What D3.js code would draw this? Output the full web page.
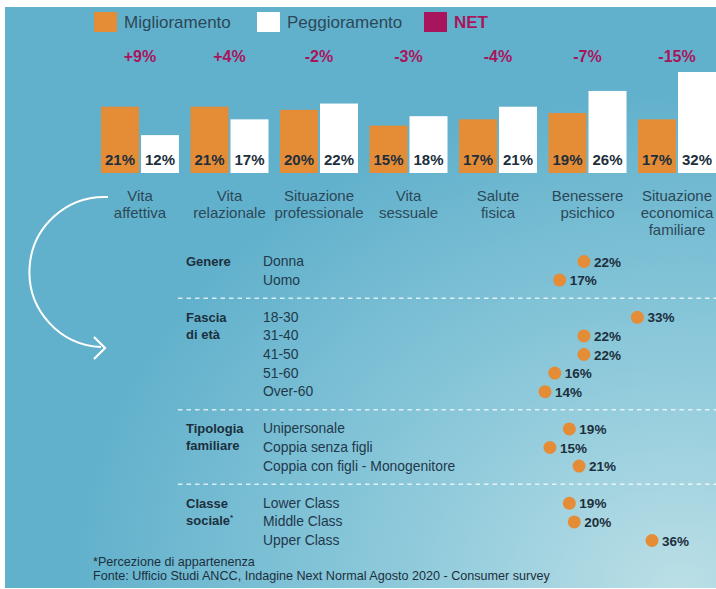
<!DOCTYPE html>
<html>
<head>
<meta charset="utf-8">
<script src="https://cdn.jsdelivr.net/npm/d3@7"></script>
<style>
  html, body { margin: 0; padding: 0; background: #fff; }
  svg { display: block; }
  text { font-family: "Liberation Sans", Arial, sans-serif; }
</style>
</head>
<body>
<svg id="chart" width="716" height="589"></svg>
<script>
// ---------- DATA ----------
const categories = ["Vita\naffettiva", "Vita\nrelazionale", "Situazione\nprofessionale", "Vita\nsessuale", "Salute\nfisica", "Benessere\npsichico", "Situazione\neconomica\nfamiliare"];
const miglioramento = [21, 21, 20, 15, 17, 19, 17];
const peggioramento = [12, 17, 22, 18, 21, 26, 32];
const netLabels = ["+9%", "+4%", "-2%", "-3%", "-4%", "-7%", "-15%"];
const seriesNames = ["Miglioramento", "Peggioramento", "NET"];

const segGroups = ["Genere", "Fascia\ndi età", "Tipologia\nfamiliare", "Classe\nsociale*"];
const segItems = ["Donna", "Uomo", "18-30", "31-40", "41-50", "51-60", "Over-60", "Unipersonale", "Coppia senza figli", "Coppia con figli - Monogenitore", "Lower Class", "Middle Class", "Upper Class"];
const segItemGroup = [0, 0, 1, 1, 1, 1, 1, 2, 2, 2, 3, 3, 3];
const segValues = [22, 17, 33, 22, 22, 16, 14, 19, 15, 21, 19, 20, 36];

const footnotes = ["*Percezione di appartenenza", "Fonte: Ufficio Studi ANCC, Indagine Next Normal Agosto 2020 - Consumer survey"];

// ---------- STYLE ----------
const ORANGE = "#e58c36";
const WHITE = "#ffffff";
const MAGENTA = "#a8155d";
const DARK = "#1c2f3c";
const MID = "#2c4858";

const svg = d3.select("#chart");
const W = 716, H = 589;

// background
const defs = svg.append("defs");
const grad = defs.append("radialGradient").attr("id", "bg")
  .attr("cx", "0.95").attr("cy", "1.0").attr("r", "0.85").attr("fx", "0.95").attr("fy", "1.0");
grad.append("stop").attr("offset", "0").attr("stop-color", "#bbdfe6");
grad.append("stop").attr("offset", "0.45").attr("stop-color", "#8fcadb");
grad.append("stop").attr("offset", "1").attr("stop-color", "#62b1cc");

svg.append("rect").attr("width", W).attr("height", H).attr("fill", "#fff");
svg.append("rect").attr("x", 5).attr("y", 7).attr("width", W - 5).attr("height", 581).attr("fill", "url(#bg)");

// ---------- LEGEND ----------
const legendX = [94, 257, 424];
const legendColors = [ORANGE, WHITE, MAGENTA];
const lg = svg.append("g");
seriesNames.forEach((name, i) => {
  lg.append("rect").attr("x", legendX[i]).attr("y", 12).attr("width", 23).attr("height", 20).attr("fill", legendColors[i]);
  lg.append("text")
    .attr("x", legendX[i] + 30).attr("y", 28)
    .attr("font-size", 17)
    .attr("font-weight", i === 2 ? "bold" : "normal")
    .attr("fill", i === 2 ? MAGENTA : MID)
    .text(name);
});

// ---------- BARS ----------
const x = d3.scaleBand().domain(categories).range([101, 716]).paddingInner(11.5 / 89.5).paddingOuter(0);
const xs = d3.scaleBand().domain(["m", "p"]).range([0, x.bandwidth()]).paddingInner(0.05);
const y = d3.scaleLinear().domain([0, 32]).range([173, 72]);

const groups = svg.append("g").selectAll("g").data(categories).join("g")
  .attr("transform", d => `translate(${x(d)},0)`);

groups.each(function (c, i) {
  const g = d3.select(this);
  const vals = [["m", miglioramento[i], ORANGE], ["p", peggioramento[i], WHITE]];
  vals.forEach(([k, v, col]) => {
    g.append("rect").attr("x", xs(k)).attr("y", y(v))
      .attr("width", xs.bandwidth()).attr("height", y(0) - y(v)).attr("fill", col);
    g.append("text")
      .attr("x", xs(k) + xs.bandwidth() / 2).attr("y", 165)
      .attr("text-anchor", "middle").attr("font-size", 15).attr("font-weight", "bold")
      .attr("fill", DARK).text(v + "%");
  });
  const cx = x.bandwidth() / 2;
  g.append("text")
    .attr("x", cx).attr("y", 62).attr("text-anchor", "middle")
    .attr("font-size", 16).attr("font-weight", "bold").attr("fill", MAGENTA)
    .text(netLabels[i]);
  const t = g.append("text").attr("text-anchor", "middle").attr("font-size", 15).attr("fill", MID);
  c.split("\n").forEach((line, j) => {
    t.append("tspan").attr("x", cx).attr("y", 201 + j * 17).text(line);
  });
});

// ---------- ARROW ----------
svg.append("path")
  .attr("d", "M108,197 A75,75 0 0 0 101,347")
  .attr("fill", "none").attr("stroke", "#fff").attr("stroke-width", 2);
svg.append("path")
  .attr("d", "M94,337 L105,348 L94,359")
  .attr("fill", "none").attr("stroke", "#fff").attr("stroke-width", 2.2);

// ---------- SEGMENTS ----------
const rowY = d3.scaleLinear().domain([0, 15]).range([266, 545]);
const dotX = d3.scaleLinear().domain([0, 36]).range([477, 652]);
const rowIndex = segItems.map((d, i) => i + segItemGroup[i]);

// separators
const sepRows = segGroups.slice(1).map((g, gi) => {
  const first = segItemGroup.indexOf(gi + 1);
  return rowIndex[first] - 1;
});
svg.append("g").selectAll("line").data(sepRows).join("line")
  .attr("x1", 178).attr("x2", 716)
  .attr("y1", d => rowY(d) - 5).attr("y2", d => rowY(d) - 5)
  .attr("stroke", "#fff").attr("stroke-opacity", 0.75)
  .attr("stroke-width", 1.6).attr("stroke-dasharray", "4.5,4");

// group labels
segGroups.forEach((gname, gi) => {
  const first = segItemGroup.indexOf(gi);
  const t = svg.append("text").attr("font-size", 13).attr("font-weight", "bold").attr("fill", DARK);
  gname.split("\n").forEach((line, j) => {
    const ty = rowY(rowIndex[first]) + j * 17;
    if (line.endsWith("*")) {
      t.append("tspan").attr("x", 186).attr("y", ty).text(line.slice(0, -1));
      t.append("tspan").attr("font-size", 8).attr("dy", -5).text("*");
    } else {
      t.append("tspan").attr("x", 186).attr("y", ty).text(line);
    }
  });
});

// item labels
svg.append("g").selectAll("text").data(segItems).join("text")
  .attr("x", 263).attr("y", (d, i) => rowY(rowIndex[i]))
  .attr("font-size", 13.9).attr("fill", "#22384a").text(d => d);

// dots
svg.append("g").selectAll("circle").data(segValues).join("circle")
  .attr("cx", d => dotX(d)).attr("cy", (d, i) => rowY(rowIndex[i]) - 4.5)
  .attr("r", 6.5).attr("fill", ORANGE);
svg.append("g").selectAll("text").data(segValues).join("text")
  .attr("x", d => dotX(d) + 10).attr("y", (d, i) => rowY(rowIndex[i]) + 0.5)
  .attr("font-size", 13.5).attr("font-weight", "bold").attr("fill", DARK)
  .text(d => d + "%");

// ---------- FOOTNOTES ----------
svg.append("g").selectAll("text").data(footnotes).join("text")
  .attr("x", 93).attr("y", (d, i) => 566 + i * 14)
  .attr("font-size", 12.6).attr("fill", DARK).text(d => d);
</script>
</body>
</html>
